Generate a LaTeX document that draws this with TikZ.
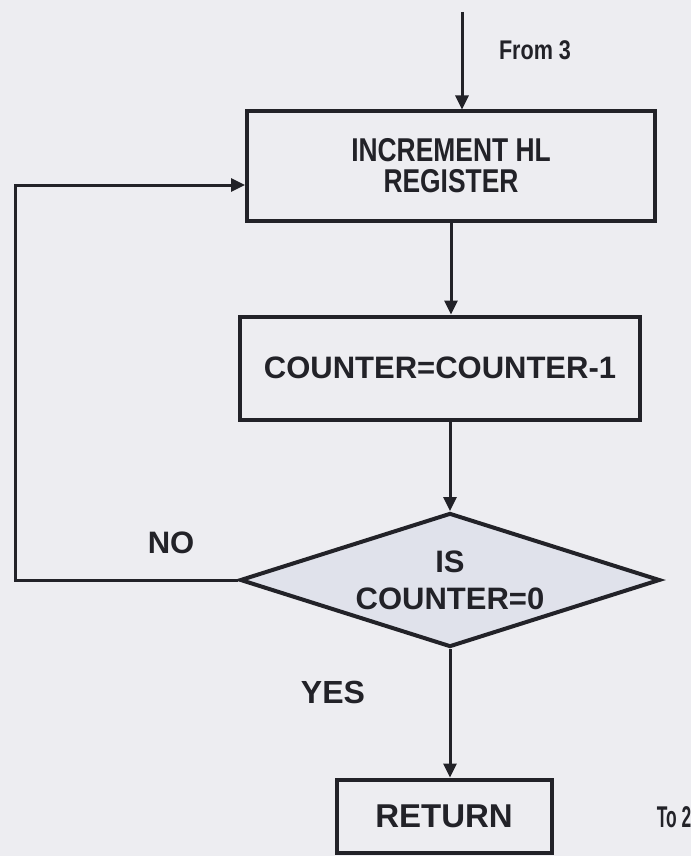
\documentclass[tikz,border=0pt]{standalone}
\usepackage{fontspec}
\setmainfont{Liberation Sans}
\usepackage{graphicx}
\usetikzlibrary{shapes.geometric,arrows.meta,positioning}
\definecolor{scanpaper}{RGB}{237,237,241}
\definecolor{scanink}{RGB}{34,34,40}
\definecolor{scandiamond}{RGB}{224,226,235}
\newcommand{\narrowtext}[2][0.84]{\scalebox{#1}[1]{#2}}

\begin{document}
\begin{tikzpicture}[x=1pt,y=-1pt,
    procbox/.style={draw=scanink,line width=4pt,fill=scanpaper,inner sep=0pt,text=scanink},
    decision/.style={diamond,draw=scanink,line width=4pt,fill=scandiamond,aspect=3.2,inner sep=0pt,
        minimum width=420pt,minimum height=134pt,align=center,text=scanink},
    flowline/.style={draw=scanink,line width=3pt,-{Triangle[length=14pt,width=13pt]}},
    bigtext/.style={text=scanink,font=\fontsize{31}{37}\selectfont\bfseries},
    narrowfont/.style={text=scanink,font=\fontsize{33}{31}\selectfont\bfseries}]
    % paper
    \fill[scanpaper] (0,0) rectangle (691,856);
    \useasboundingbox (0,0) rectangle (691,856);

    % boxes
    \node[procbox,narrowfont,align=center,minimum width=408pt,minimum height=109pt] (incbox) at (451,166)
        {\narrowtext[0.8]{INCREMENT HL}\\\narrowtext[0.8]{REGISTER}};
    \node[procbox,bigtext,minimum width=400pt,minimum height=103pt] (decbox) at (440,368) {COUNTER=COUNTER-1};
    \node[decision,bigtext] (test) at (450,580) {IS\\COUNTER=0};
    \node[procbox,bigtext,font=\fontsize{33}{37}\selectfont\bfseries,minimum width=215pt,minimum height=73pt] (retbox) at (444,816) {RETURN};

    % labels
    \node[narrowfont,font=\fontsize{27}{30}\selectfont\bfseries] (fromlabel) at (535,50) {\narrowtext[0.8]{From 3}};
    \node[narrowfont,font=\fontsize{30}{30}\selectfont\bfseries] (tolabel) at (674,817) {\narrowtext[0.58]{To 2}};
    \node[bigtext] (nolabel) at (171,543) {NO};
    \node[bigtext,font=\fontsize{32}{37}\selectfont\bfseries] (yeslabel) at (333,692) {YES};

    % connectors
    \coordinate (fromtop) at (462,12);
    \coordinate (loopcorner) at (15,580);
    \draw[flowline] (fromtop) -- (fromtop |- incbox.north);
    \draw[flowline] (incbox.south) -- (incbox.south |- decbox.north);
    \draw[flowline] (test.north |- decbox.south) -- (test.north);
    \draw[flowline] (test.south) -- (test.south |- retbox.north);
    \draw[flowline] (test.west) -- (loopcorner) |- ([yshift=-19pt]incbox.west);
\end{tikzpicture}
\end{document}
